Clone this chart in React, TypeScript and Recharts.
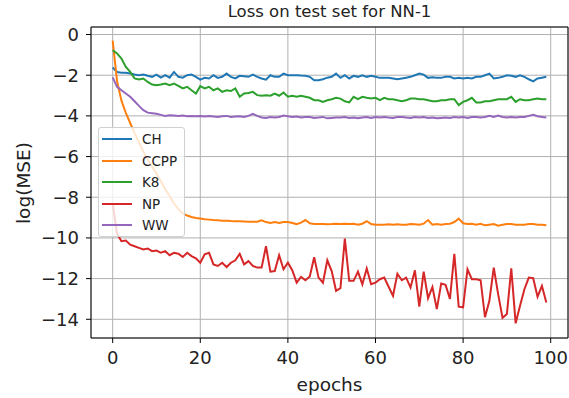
import React from 'react';
import { LineChart, Line, XAxis, YAxis, CartesianGrid, Legend, ReferenceLine } from 'recharts';

const seriesNames = ['CH', 'CCPP', 'K8', 'NP', 'WW'];
const seriesColors = ['#1f77b4', '#ff7f0e', '#2ca02c', '#d62728', '#9467bd'];

const chValues = [
  -1.62, -1.84, -1.88, -1.88, -1.92, -1.97, -2.0, -1.97, -2.03, -2.08,
  -1.97, -2.12, -2.0, -2.12, -1.84, -2.08, -2.12, -2.0, -1.97, -2.08,
  -2.22, -2.13, -2.16, -2.0, -2.13, -2.08, -1.92, -2.08, -2.16, -2.03,
  -2.05, -2.08, -1.97, -2.08, -2.16, -2.22, -2.0, -2.08, -2.08, -1.92,
  -2.0, -2.0, -2.0, -2.02, -2.03, -2.08, -2.25, -2.25, -2.2, -2.12,
  -2.08, -1.92, -2.13, -2.0, -2.16, -2.03, -2.08, -2.0, -2.08, -2.03,
  -2.08, -2.13, -2.12, -2.12, -2.16, -2.2, -2.16, -2.12, -2.08, -2.0,
  -1.92, -1.97, -2.13, -2.1, -2.12, -2.13, -2.08, -2.08, -2.16, -2.13,
  -2.16, -2.13, -2.16, -2.08, -2.08, -2.0, -1.92, -2.16, -2.13, -2.08,
  -2.0, -2.03, -2.08, -2.0, -2.08, -2.2, -2.3, -2.16, -2.12, -2.08,
];

const ccppValues = [
  -0.3, -2.3, -3.25, -3.85, -4.35, -4.85, -5.3, -5.75, -6.15, -6.5,
  -6.85, -7.2, -7.6, -7.95, -8.3, -8.6, -8.8, -8.9, -8.97, -9.02,
  -9.05, -9.08, -9.1, -9.12, -9.13, -9.15, -9.15, -9.17, -9.18, -9.18,
  -9.19, -9.2, -9.2, -9.2, -9.13, -9.22, -9.27, -9.22, -9.27, -9.22,
  -9.22, -9.27, -9.32, -9.25, -9.12, -9.28, -9.32, -9.32, -9.32, -9.33,
  -9.32, -9.3, -9.32, -9.3, -9.32, -9.3, -9.35, -9.3, -9.18, -9.32,
  -9.35, -9.35, -9.35, -9.33, -9.35, -9.33, -9.35, -9.35, -9.32, -9.33,
  -9.35, -9.3, -9.12, -9.35, -9.32, -9.35, -9.32, -9.3, -9.22, -9.05,
  -9.28, -9.32, -9.3, -9.35, -9.3, -9.38, -9.35, -9.32, -9.4, -9.35,
  -9.32, -9.32, -9.35, -9.35, -9.35, -9.32, -9.32, -9.35, -9.35, -9.38,
];

const k8Values = [
  -0.77, -0.93, -1.18, -1.59, -1.84, -2.16, -2.21, -2.16, -2.33, -2.46,
  -2.49, -2.46, -2.41, -2.49, -2.41, -2.52, -2.65, -2.57, -2.74, -2.9,
  -2.54, -2.65, -2.57, -2.74, -2.65, -2.82, -2.74, -2.78, -2.65, -3.06,
  -2.9, -2.87, -2.82, -2.98, -3.01, -2.98, -3.01, -2.9, -3.01, -2.85,
  -3.06, -3.01, -3.06, -3.01, -3.06, -3.11, -3.23, -3.23, -3.31, -3.23,
  -3.18, -3.11, -3.15, -3.28, -3.34, -3.06, -3.18, -3.06, -3.11, -3.15,
  -3.11, -3.23, -3.11, -3.18, -3.18, -3.23, -3.28, -3.23, -3.15, -3.15,
  -3.18, -3.18, -3.23, -3.28, -3.28, -3.23, -3.23, -3.18, -3.18, -3.47,
  -3.31, -3.23, -3.11, -3.34, -3.34, -3.28, -3.28, -3.23, -3.18, -3.18,
  -3.18, -3.06, -3.31, -3.18, -3.23, -3.23, -3.18, -3.15, -3.18, -3.18,
];

const npValues = [
  -8.3, -9.8, -10.16, -10.13, -10.33, -10.41, -10.49, -10.57, -10.52, -10.65,
  -10.62, -10.73, -10.65, -10.85, -10.73, -10.78, -10.94, -10.73, -10.89, -11.0,
  -11.22, -10.81, -10.73, -11.3, -11.38, -11.22, -11.43, -11.22, -11.1, -10.78,
  -11.3, -11.14, -11.38, -11.46, -11.46, -10.41, -11.66, -11.63, -10.85, -11.54,
  -11.22, -11.59, -12.2, -11.92, -12.08, -11.9, -10.95, -11.95, -12.2, -11.1,
  -11.63, -12.6, -12.47, -10.03, -12.11, -12.11, -11.66, -12.28, -11.5, -12.28,
  -12.2, -12.03, -11.95, -12.4, -12.85, -11.76, -12.08, -11.95, -12.44, -11.59,
  -13.38, -11.66, -12.96, -12.41, -13.5, -12.24, -12.31, -13.0, -10.78, -13.38,
  -13.41, -11.54, -12.03, -12.03, -12.08, -13.9, -13.09, -11.46, -12.76, -13.93,
  -13.74, -11.5, -14.2, -13.33, -12.52, -11.95, -11.98, -12.89, -12.36, -13.17,
];

const wwValues = [
  -2.11, -2.57, -2.74, -2.9, -3.06, -3.28, -3.51, -3.72, -3.84, -3.87,
  -3.9, -3.95, -4.0, -3.97, -3.98, -4.0, -3.98, -4.02, -4.0, -4.02,
  -4.0, -4.03, -4.0, -4.03, -4.05, -4.02, -4.0, -4.05, -4.03, -4.02,
  -4.05, -4.0, -3.9, -4.0, -4.08, -4.1, -4.05, -4.08, -4.05, -3.98,
  -4.02, -4.05, -4.03, -4.08, -4.05, -4.05, -4.1, -4.08, -4.05, -4.12,
  -4.1, -4.08, -4.08, -4.05, -4.1, -4.08, -4.12, -4.08, -4.05, -4.1,
  -4.05, -4.08, -4.05, -4.08, -4.1, -4.05, -4.05, -4.08, -4.1, -4.05,
  -4.08, -4.05, -4.1, -4.08, -4.12, -4.1, -4.08, -4.1, -4.05, -4.08,
  -4.05, -4.1, -4.05, -4.05, -4.08, -4.05, -4.0, -4.05, -3.98, -4.05,
  -4.08, -4.05, -4.08, -4.05, -4.05, -4.0, -3.95, -4.02, -4.05, -4.08,
];

const xTicks = [0, 20, 40, 60, 80, 100];
const yTicks = [0, -2, -4, -6, -8, -10, -12, -14];
const xDomain = [-4.95, 103.95];
const yDomain = [-14.92, 0.37];

const allSeries = [chValues, ccppValues, k8Values, npValues, wwValues];

const data = chValues.map((_, i) => {
  const row: Record<string, number> = { epoch: i };
  seriesNames.forEach((name, s) => {
    row[name] = allSeries[s][i];
  });
  return row;
});

const FONT = '"DejaVu Sans", Verdana, sans-serif';

const fmt = (v: number) => (v < 0 ? '\u2212' + Math.abs(v) : String(v));

const LegendBox = (props: any) => {
  const payload = [...(props.payload || [])].sort(
    (a: any, b: any) => seriesNames.indexOf(a.value) - seriesNames.indexOf(b.value)
  );
  return (
    <div
      style={{
        boxSizing: 'border-box',
        width: 87,
        height: 110,
        border: '1px solid #d0d0d0',
        borderRadius: 3,
        background: 'rgba(255,255,255,0.8)',
        paddingTop: 0.5,
        paddingLeft: 3,
        fontFamily: FONT,
        fontSize: 13.5,
        color: '#222',
      }}
    >
      {payload.map((p: any) => (
        <div key={p.value} style={{ display: 'flex', alignItems: 'center', height: 21.5 }}>
          <span style={{ display: 'inline-block', width: 30, height: 2, background: p.color, marginRight: 10 }} />
          <span>{p.value}</span>
        </div>
      ))}
    </div>
  );
};

export default function App() {
  return (
    <div style={{ position: 'absolute', left: 0, top: 0, width: 569, height: 398, background: '#fff' }}>
      <LineChart
        width={569}
        height={398}
        data={data}
        margin={{ top: 27, right: 1, bottom: 0, left: 0 }}
      >
        <CartesianGrid stroke="#b0b0b0" strokeWidth={1} />
        <XAxis
          dataKey="epoch"
          type="number"
          domain={xDomain}
          ticks={xTicks}
          allowDataOverflow
          height={60}
          tickSize={5}
          tickMargin={8}
          stroke="#000"
          tick={{ fill: '#222', fontSize: 18, fontFamily: FONT }}
        />
        <YAxis
          type="number"
          domain={yDomain}
          ticks={yTicks}
          allowDataOverflow
          width={91}
          tickSize={5}
          tickMargin={7}
          stroke="#000"
          tickFormatter={fmt}
          tick={{ fill: '#222', fontSize: 18, fontFamily: FONT }}
        />
        <ReferenceLine y={yDomain[1]} stroke="#000" strokeWidth={1} />
        <ReferenceLine x={xDomain[1]} stroke="#000" strokeWidth={1} />
        {seriesNames.map((name, s) => (
          <Line
            key={name}
            type="linear"
            dataKey={name}
            name={name}
            stroke={seriesColors[s]}
            strokeWidth={2}
            dot={false}
            isAnimationActive={false}
          />
        ))}
        <Legend
          layout="vertical"
          align="center"
          verticalAlign="middle"
          itemSorter={null as any}
          content={<LegendBox />}
          wrapperStyle={{ left: 98, top: 127, width: 87, height: 110 }}
        />
      </LineChart>
      <div
        style={{
          position: 'absolute', left: 329.5, top: 12, transform: 'translate(-50%, -50%)',
          fontFamily: FONT, fontSize: 16.5, color: '#222', whiteSpace: 'nowrap', lineHeight: 1,
        }}
      >
        Loss on test set for NN-1
      </div>
      <div
        style={{
          position: 'absolute', left: 329.5, top: 385, transform: 'translate(-50%, -50%)',
          fontFamily: FONT, fontSize: 18.5, color: '#222', whiteSpace: 'nowrap', lineHeight: 1,
        }}
      >
        epochs
      </div>
      <div
        style={{
          position: 'absolute', left: 24, top: 182.5, transform: 'translate(-50%, -50%) rotate(-90deg)',
          fontFamily: FONT, fontSize: 18.5, color: '#222', whiteSpace: 'nowrap', lineHeight: 1,
        }}
      >
        log(MSE)
      </div>
    </div>
  );
}
